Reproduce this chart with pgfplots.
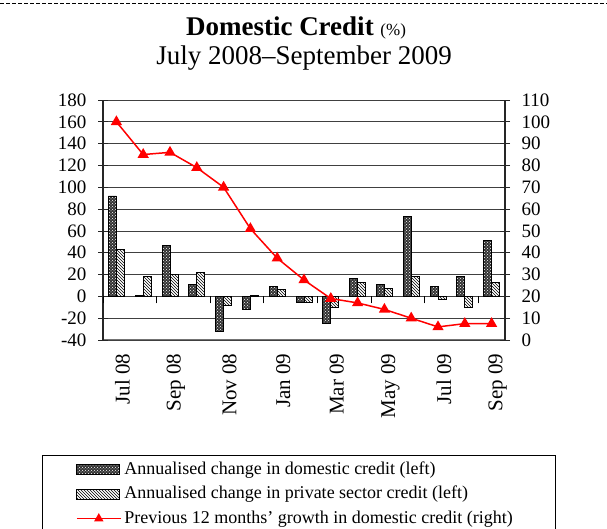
\documentclass[border=0pt]{standalone}
\usepackage{fontspec}
\setmainfont{Liberation Serif}
\usepackage{pgfplots}
\pgfplotsset{compat=1.18}
\usetikzlibrary{patterns}

\pgfplotsset{
  barlegend/.style={legend image code/.code={\draw[##1] (0pt,-5pt) rectangle (43pt,5pt);}},
  linelegend/.style={legend image code/.code={\draw[mark repeat=2,mark phase=2,##1,sharp plot] plot coordinates {(0pt,0pt) (22pt,0pt) (44pt,0pt)};}},
}

\pgfplotstableread{
x dom priv
0 92 43
1 1 18
2 47 20
3 11 21.5
4 -32 -8
5 -12 1
6 9 6
7 -6 -6
8 -25 -10
9 16 13
10 11 7
11 73 18
12 9 -3
13 18 -10
14 51 13
}\bardata

\pgfplotstableread{
x g
0 100
1 85
2 86
3 79
4 70
5 51
6 37.5
7 27.5
8 19
9 17
10 14
11 10
12 6
13 7.5
14 7.5
}\linedata

\begin{document}
\begin{tikzpicture}[x=1pt,y=1pt]
\useasboundingbox (0,0) rectangle (607,529);
\draw[dash pattern=on 4pt off 2pt, line width=0.8pt] (0,526) -- (607,526);
\node[anchor=base, font=\fontsize{27}{30}\selectfont, inner sep=0pt] at (296,493) {\textbf{Domestic Credit} {\fontsize{17}{20}\selectfont(\%)}};
\node[anchor=base, font=\fontsize{27}{30}\selectfont, inner sep=0pt] at (304,464) {July 2008--September 2009};

\begin{axis}[
  at={(103pt,189pt)}, anchor=south west, scale only axis,
  width=402pt, height=240pt,
  xmin=-0.5, xmax=14.5, ymin=-40, ymax=180,
  ytick={-40,-20,...,180},
  axis y line*=left, axis x line*=bottom,
  xtick={0,2,...,14},
  xticklabels={Jul 08,Sep 08,Nov 08,Jan 09,Mar 09,May 09,Jul 09,Sep 09},
  x tick style={draw=none},
  x axis line style={draw=black!55, line width=1pt},
  y axis line style={draw=black!85, line width=1.2pt},
  y tick style={black!85, line width=0.8pt},
  xticklabel style={rotate=90, anchor=east, yshift=-6pt, font=\fontsize{21}{24}\selectfont},
  yticklabel style={xshift=-8pt, font=\fontsize{19}{22}\selectfont},
  ymajorgrids, grid style={black!75, line width=0.8pt},
  tick align=center, major tick length=10pt,
  ybar=0pt, bar width=8pt,
  /pgf/number format/assume math mode=true,
  legend cell align=left,
  legend style={at={(-0.075,-0.48)}, anchor=north west, draw=none, fill=none,
    font=\fontsize{18}{21}\selectfont, row sep=0pt,
    nodes={inner sep=2.75pt, text height=14pt, text depth=5pt}},
]
\addplot[draw=black, line width=0.9pt, fill=black!80,
  postaction={pattern=crosshatch dots, pattern color=white}, barlegend]
  table[x=x, y=dom] {\bardata};
\addlegendentry{Annualised change in domestic credit (left)}
\addplot[draw=black, line width=0.9pt, fill=white,
  postaction={pattern=north west lines, pattern color=black}, barlegend]
  table[x=x, y=priv] {\bardata};
\addlegendentry{Annualised change in private sector credit (left)}
\addlegendimage{red, line width=1.5pt, mark=triangle*, mark size=4pt, linelegend}
\addlegendentry{Previous 12 months' growth in domestic credit (right)}
\end{axis}

\begin{axis}[
  at={(103pt,189pt)}, anchor=south west, scale only axis,
  width=402pt, height=240pt,
  xmin=-0.5, xmax=14.5, ymin=0, ymax=110,
  ytick={0,10,...,110},
  axis y line*=right, axis x line=none,
  y axis line style={draw=black!85, line width=1.2pt},
  y tick style={black!85, line width=0.8pt},
  yticklabel style={xshift=8pt, font=\fontsize{19}{22}\selectfont},
  tick align=center, major tick length=10pt,
  /pgf/number format/assume math mode=true,
]
\addplot[red, line width=1.5pt, mark=triangle*, mark size=5pt] table[x=x, y=g] {\linedata};
\end{axis}

\begin{axis}[
  at={(103pt,189pt)}, anchor=south west, scale only axis,
  width=402pt, height=240pt,
  xmin=-0.5, xmax=14.5, ymin=-40, ymax=180,
  axis x line=middle, axis y line=none,
  x axis line style={draw=none},
  xtick={-0.5,1.5,...,13.5}, xticklabels={},
  x tick style={black, line width=0.8pt},
  tick align=outside, major tick length=7pt,
]
\addplot[draw=none] coordinates {(0,0)};
\end{axis}

\draw[line width=0.8pt] (42,-2) -- (42,74) -- (555,74) -- (555,-2);
\end{tikzpicture}
\end{document}
